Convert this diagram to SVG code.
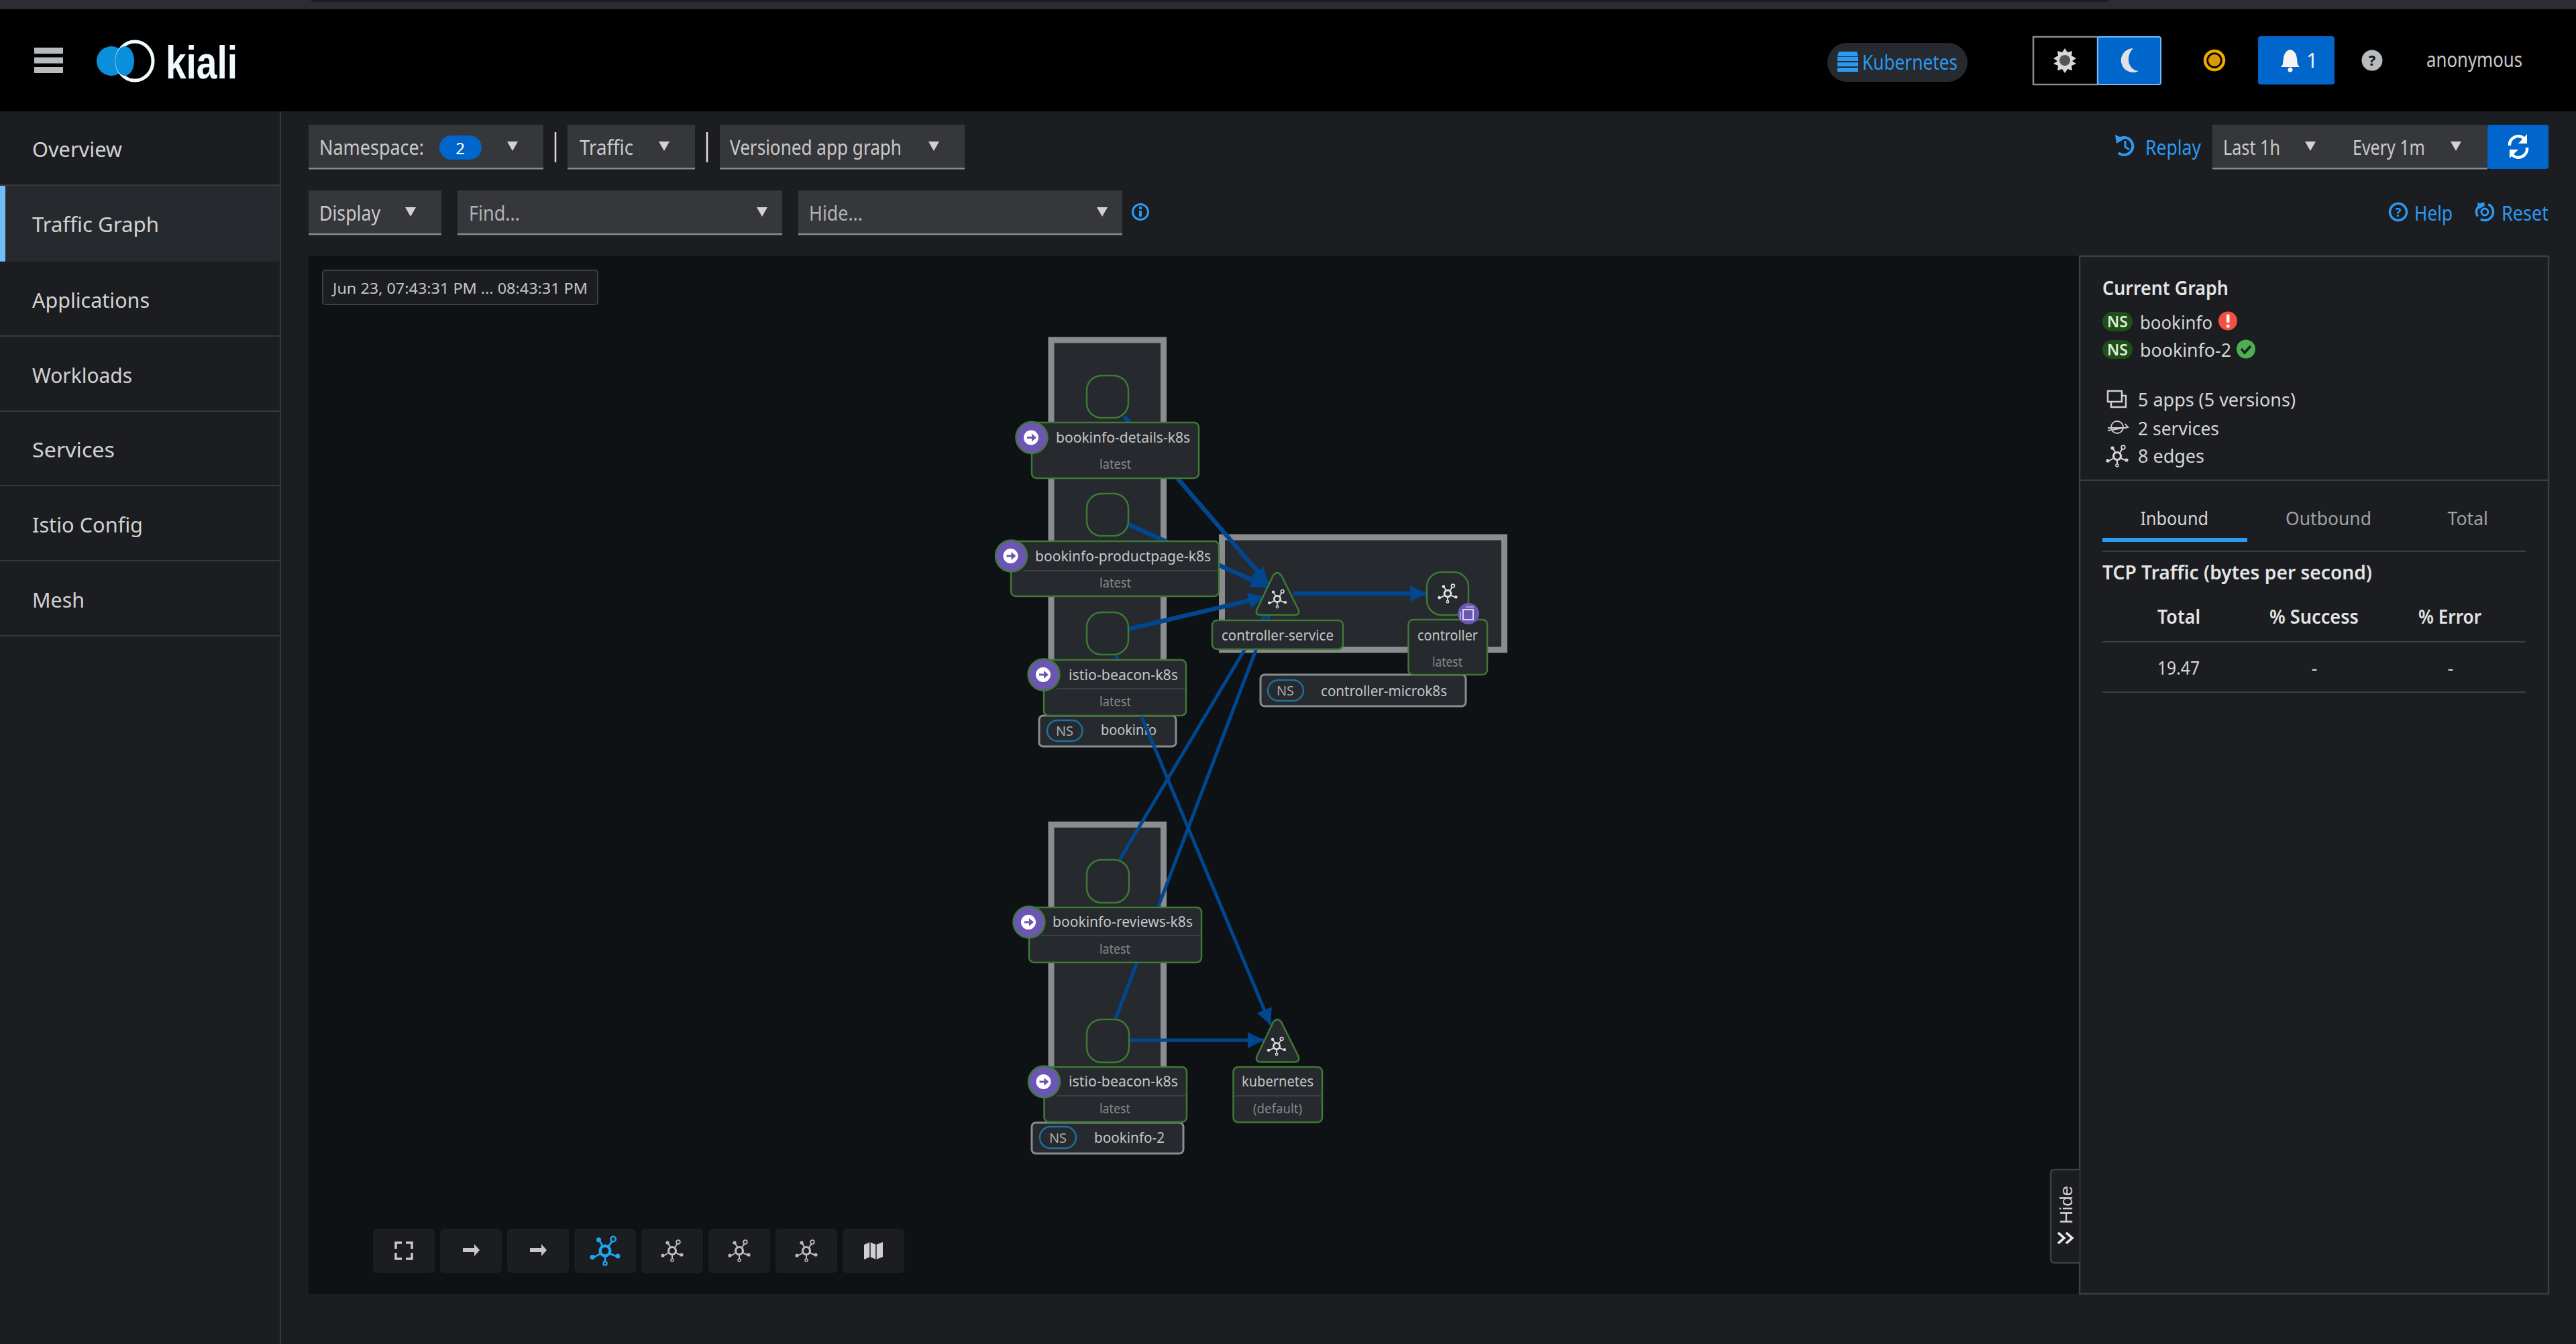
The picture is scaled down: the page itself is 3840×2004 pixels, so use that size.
<svg xmlns="http://www.w3.org/2000/svg" width="3840" height="2004" viewBox="0 0 3840 2004">
<style>
text{font-family:"Noto Sans","Open Sans","Liberation Sans",sans-serif;fill:#d2d2d2;dominant-baseline:central}
.side{font-size:31px}
.tb{font-size:30px;fill:#c8c9cb}
.ph{font-size:30px;fill:#b0b2b5}
.blue{font-size:30px;fill:#2b9af3}
.lbl{font-size:21px;fill:#c4c6c8}
.sub{font-size:19px;fill:#85888b}
.mid{text-anchor:middle}
.pt{font-size:28px;fill:#d6d6d6}
.pb{font-size:28px;font-weight:600;fill:#e4e4e4}
.nspill{font-size:23px;font-weight:600;fill:#dcebd8;text-anchor:middle}
.nsg{font-size:20px;fill:#a9abae;text-anchor:middle}
.dd{fill:#36373a}
.ul{fill:#8a8d90}
.caret{fill:#d2d2d2}
.sep{stroke:#e0e0e0;stroke-width:2.5}
.sdiv{stroke:#36383c;stroke-width:2}
.pdiv{stroke:#3c3f42;stroke-width:2}
.grp{fill:#26292d;stroke:#8a8d90;stroke-width:9}
.node{fill:#26292d;stroke:#3f7a35;stroke-width:2.5}
.lb{fill:#26292d;stroke:#3f7a35;stroke-width:2.5}
.div{stroke:#3c3f42;stroke-width:2}
.nsb{fill:#26292d;stroke:#8a8d90;stroke-width:3}
.pill{fill:none;stroke:#1f6f9f;stroke-width:2.5}
.bc{fill:#6b56b3;stroke:#3f7a35;stroke-width:2.5}
.tool{fill:#1b1d21}
.edge{fill:none;stroke:#00478f;stroke-width:5}
.thick{stroke-width:6.5}
.arr{marker-end:url(#ah)}
</style>
<defs>
<marker id="ah" markerUnits="userSpaceOnUse" markerWidth="26" markerHeight="26" refX="24" refY="12" orient="auto"><path d="M0 0L24 12L0 24Z" fill="#00478f"/></marker>
<g id="caret"><path class="caret" d="M-8 -7H8L0 7Z"/></g>
<g id="topo"><g fill="currentColor" stroke="currentColor">
<path d="M-2 -4L-6 -11M4 -5L8 -11M5 3L12 6M0 6L0 12M-5 3L-12 7" stroke-width="2" fill="none"/>
<circle r="5.5" fill="none" stroke-width="3.2"/>
<circle cx="-7" cy="-12" r="2.6" stroke="none"/>
<circle cx="9" cy="-13" r="2.8" fill="none" stroke-width="1.8"/>
<circle cx="14" cy="6" r="2.6" stroke="none"/>
<circle cx="0" cy="14" r="2" fill="none" stroke-width="1.6"/>
<circle cx="-14" cy="7" r="2.6" stroke="none"/>
</g></g>
<g id="badge"><circle r="23.5" class="bc"/><circle r="11" cx="-1" fill="#fff"/><path d="M-7 -1.5H0V-6L7 0L0 6V1.5H-7Z" fill="#6b56b3"/></g>
</defs>

<rect width="3840" height="2004" fill="#1b1d21"/>
<rect width="3840" height="13" fill="#2c2c35"/>
<rect x="464" width="2678" height="3" fill="#1d1d22"/>
<rect y="14" width="3840" height="152" fill="#000"/>

<g id="header">
<g fill="#b8bbbe"><rect x="51" y="71" width="43" height="9"/><rect x="51" y="85.5" width="43" height="9"/><rect x="51" y="100" width="43" height="9"/></g>
<circle cx="166" cy="91" r="22" fill="#0a8fdb"/>
<ellipse cx="201" cy="91" rx="27" ry="29" fill="#000" stroke="#f0fbff" stroke-width="5"/>
<ellipse cx="186" cy="91" rx="14" ry="22" fill="#0a8fdb"/>
<text x="247" y="93" font-size="68" font-weight="700" style="fill:#f0fbff;font-family:'Liberation Sans',sans-serif" textLength="107" lengthAdjust="spacingAndGlyphs">kiali</text>
<rect x="2724" y="64" width="209" height="58" rx="29" fill="#26292d"/>
<g fill="#2b9af3"><path d="M2741 77H2768L2770 84H2739Z"/><rect x="2739" y="85" width="31" height="6"/><rect x="2739" y="93" width="31" height="6"/><rect x="2739" y="101" width="31" height="6"/></g>
<text class="blue" x="2776" y="92" textLength="142" lengthAdjust="spacingAndGlyphs">Kubernetes</text>
<rect x="3031" y="55" width="96" height="71" fill="#000" stroke="#8a8d90" stroke-width="2.5"/>
<rect x="3127" y="55" width="94" height="71" rx="3" fill="#06c" stroke="#73bcf7" stroke-width="2"/>
<path fill="#d8d8d8" d="M3078 72L3082 78L3089 76L3088 83L3095 87L3089 91L3095 95L3088 98L3089 105L3082 103L3078 109L3074 103L3067 105L3068 98L3061 95L3067 91L3061 87L3068 83L3067 76L3074 78Z"/>
<circle cx="3078" cy="90" r="8" fill="#555"/>
<path d="M3180 72A18 18 0 1 0 3188 106C3172 104 3168 84 3180 72Z" fill="#e0e0e0"/>
<circle cx="3301" cy="90" r="14" fill="none" stroke="#f0ab00" stroke-width="4.5"/>
<circle cx="3301" cy="90" r="9" fill="#d99a00"/>
<rect x="3366" y="54" width="114" height="72" rx="4" fill="#06c"/>
<path d="M3414 74C3404 76 3404 86 3403 96L3400 100H3428L3425 96C3424 86 3424 76 3414 74Z" fill="#f4f4f4"/>
<circle cx="3414" cy="104" r="3.5" fill="#f4f4f4"/>
<text x="3438" y="89" font-size="30" style="fill:#f0f0f0">1</text>
<circle cx="3536" cy="90" r="15.5" fill="#b8bbbe"/>
<text x="3536" y="89" class="mid" font-size="22" font-weight="700" style="fill:#111">?</text>
<text class="tb" x="3617" y="88" textLength="143" lengthAdjust="spacingAndGlyphs">anonymous</text>
</g>

<g id="sidebar">
<rect x="0" y="166" width="419" height="1838" fill="#1b1d21"/>
<rect x="0" y="276" width="419" height="114" fill="#26292d"/>
<rect x="0" y="276" width="8" height="114" fill="#73bcf7"/>
<line class="sdiv" x1="418" y1="166" x2="418" y2="2004"/>
<line class="sdiv" x1="0" y1="276" x2="418" y2="276"/>
<line class="sdiv" x1="0" y1="501" x2="418" y2="501"/>
<line class="sdiv" x1="0" y1="613" x2="418" y2="613"/>
<line class="sdiv" x1="0" y1="724" x2="418" y2="724"/>
<line class="sdiv" x1="0" y1="836" x2="418" y2="836"/>
<line class="sdiv" x1="0" y1="948" x2="418" y2="948"/>
<text class="side" x="48" y="222" textLength="134" lengthAdjust="spacingAndGlyphs">Overview</text>
<text class="side" x="48" y="334" textLength="189" lengthAdjust="spacingAndGlyphs">Traffic Graph</text>
<text class="side" x="48" y="447" textLength="175" lengthAdjust="spacingAndGlyphs">Applications</text>
<text class="side" x="48" y="559" textLength="149" lengthAdjust="spacingAndGlyphs">Workloads</text>
<text class="side" x="48" y="670" textLength="123" lengthAdjust="spacingAndGlyphs">Services</text>
<text class="side" x="48" y="782" textLength="165" lengthAdjust="spacingAndGlyphs">Istio Config</text>
<text class="side" x="48" y="894" textLength="78" lengthAdjust="spacingAndGlyphs">Mesh</text>
</g>

<g id="toolbar">
<rect class="dd" x="460" y="186" width="350" height="66"/><rect class="ul" x="460" y="250" width="350" height="2.5"/>
<rect class="dd" x="846" y="186" width="190" height="66"/><rect class="ul" x="846" y="250" width="190" height="2.5"/>
<rect class="dd" x="1073" y="186" width="365" height="66"/><rect class="ul" x="1073" y="250" width="365" height="2.5"/>
<line class="sep" x1="828" y1="197" x2="828" y2="242"/>
<line class="sep" x1="1054" y1="197" x2="1054" y2="242"/>
<text class="tb" x="476" y="219" textLength="156" lengthAdjust="spacingAndGlyphs">Namespace:</text>
<rect x="655" y="202" width="63" height="36" rx="18" fill="#06c"/>
<text class="mid" x="686" y="220" font-size="24" style="fill:#fff">2</text>
<use href="#caret" x="764" y="218"/>
<text class="tb" x="864" y="219" textLength="80" lengthAdjust="spacingAndGlyphs">Traffic</text>
<use href="#caret" x="990" y="218"/>
<text class="tb" x="1088" y="219" textLength="256" lengthAdjust="spacingAndGlyphs">Versioned app graph</text>
<use href="#caret" x="1392" y="218"/>
<rect class="dd" x="460" y="284" width="198" height="66"/><rect class="ul" x="460" y="348" width="198" height="2.5"/>
<rect class="dd" x="682" y="284" width="484" height="66"/><rect class="ul" x="682" y="348" width="484" height="2.5"/>
<rect class="dd" x="1190" y="284" width="483" height="66"/><rect class="ul" x="1190" y="348" width="483" height="2.5"/>
<text class="tb" x="476" y="317" textLength="91" lengthAdjust="spacingAndGlyphs">Display</text>
<use href="#caret" x="612" y="316"/>
<text class="ph" x="699" y="317" textLength="76" lengthAdjust="spacingAndGlyphs">Find...</text>
<use href="#caret" x="1136" y="316"/>
<text class="ph" x="1206" y="317" textLength="80" lengthAdjust="spacingAndGlyphs">Hide...</text>
<use href="#caret" x="1643" y="316"/>
<circle cx="1700" cy="316" r="11.5" fill="none" stroke="#2b9af3" stroke-width="3"/>
<rect x="1698" y="314" width="4" height="9" fill="#2b9af3"/><rect x="1698" y="308" width="4" height="4" fill="#2b9af3"/>

<path d="M3158 208A13 13 0 1 1 3158 228" fill="none" stroke="#2b9af3" stroke-width="4"/>
<path d="M3153 201L3167 207L3155 214Z" fill="#2b9af3"/>
<path d="M3168 210V219L3174 223" fill="none" stroke="#2b9af3" stroke-width="3"/>
<text class="blue" x="3198" y="219" textLength="83" lengthAdjust="spacingAndGlyphs">Replay</text>
<rect class="dd" x="3298" y="186" width="410" height="66"/><rect class="ul" x="3298" y="250" width="410" height="2.5"/>
<text class="tb" x="3314" y="219" textLength="85" lengthAdjust="spacingAndGlyphs">Last 1h</text>
<use href="#caret" x="3444" y="218"/>
<text class="tb" x="3507" y="219" textLength="108" lengthAdjust="spacingAndGlyphs">Every 1m</text>
<use href="#caret" x="3661" y="218"/>
<rect x="3708" y="186" width="91" height="66" rx="4" fill="#06c"/>
<g fill="none" stroke="#fff" stroke-width="4.5"><path d="M3741 217A13 13 0 0 1 3762 206"/><path d="M3767 220A13 13 0 0 1 3745 231"/></g>
<path d="M3767 200V214H3754Z" fill="#fff"/><path d="M3741 236V223H3754Z" fill="#fff"/>
<circle cx="3575" cy="316" r="12.5" fill="none" stroke="#2b9af3" stroke-width="3.5"/>
<text class="mid" x="3575" y="316" font-size="18" font-weight="700" style="fill:#2b9af3">?</text>
<text class="blue" x="3599" y="317" textLength="57" lengthAdjust="spacingAndGlyphs">Help</text>
<circle cx="3704" cy="316" r="12.5" fill="none" stroke="#2b9af3" stroke-width="3.5" stroke-dasharray="26 6"/>
<circle cx="3704" cy="316" r="5" fill="none" stroke="#2b9af3" stroke-width="3"/>
<path d="M3693 302L3705 306L3695 312Z" fill="#2b9af3"/>
<text class="blue" x="3729" y="317" textLength="70" lengthAdjust="spacingAndGlyphs">Reset</text>
</g>

<rect id="canvas" x="460" y="382" width="2640" height="1547" fill="#0e1215"/>

<g id="timestamp">
<rect x="481" y="403" width="410" height="51" rx="4" fill="#1b1d21" stroke="#3c3f42" stroke-width="2"/>
<text x="496" y="429" font-size="22" style="fill:#c4c6c8" textLength="380" lengthAdjust="spacingAndGlyphs">Jun 23, 07:43:31 PM ... 08:43:31 PM</text>
</g>

<g id="box-bookinfo"><rect class="grp" x="1567" y="507" width="167.5" height="556"/></g>
<g id="box-bookinfo-2"><rect class="grp" x="1567" y="1229.5" width="167.5" height="440"/></g>
<g id="box-controller-microk8s"><rect class="grp" x="1821.5" y="801" width="421" height="168"/></g>

<g id="ns-bookinfo"><rect class="nsb" x="1549" y="1067" width="204" height="46" rx="6"/><rect class="pill" x="1561" y="1074" width="52.5" height="31" rx="15.5"/><text class="nsg" x="1587" y="1089">NS</text><text class="lbl" x="1641" y="1088" textLength="83" lengthAdjust="spacingAndGlyphs">bookinfo</text></g>
<g id="ns-bookinfo-2"><rect class="nsb" x="1538" y="1674" width="226" height="46" rx="6"/><rect class="pill" x="1550" y="1680" width="54" height="32" rx="16"/><text class="nsg" x="1577" y="1696">NS</text><text class="lbl" x="1631" y="1696" textLength="105" lengthAdjust="spacingAndGlyphs">bookinfo-2</text></g>
<g id="ns-controller-microk8s"><rect class="nsb" x="1879" y="1006" width="306" height="47" rx="6"/><rect class="pill" x="1890" y="1014" width="53" height="31" rx="15.5"/><text class="nsg" x="1916" y="1029">NS</text><text class="lbl" x="1969" y="1030" textLength="188" lengthAdjust="spacingAndGlyphs">controller-microk8s</text></g>

<g id="connectors">
<path class="edge thick arr" d="M1676 621L1890 870"/>
<path class="edge thick arr" d="M1682 782L1889 875"/>
<path class="edge thick arr" d="M1682 938L1885 890"/>
<path class="edge thick arr" d="M1928 885L2126 885"/>
<path class="edge" d="M1669 1282L1886 917"/>
<path class="edge" d="M1663 1519L1892 917"/>
<path class="edge arr" d="M1663 976L1894 1528"/>
<path class="edge arr" d="M1683 1551L1884 1551"/>
</g>

<g id="node-details"><rect class="node" x="1620" y="560" width="62" height="63" rx="22"/></g>
<g id="node-productpage"><rect class="node" x="1620" y="736" width="62" height="63" rx="22"/></g>
<g id="node-beacon"><rect class="node" x="1620" y="913" width="62" height="63" rx="22"/></g>
<g id="node-reviews"><rect class="node" x="1620" y="1282" width="63" height="64" rx="22"/></g>
<g id="node-beacon-2"><rect class="node" x="1620" y="1520" width="63" height="64" rx="22"/></g>

<g id="node-controller-service">
<path class="node" d="M1898 858Q1904 850 1910 858L1935 908Q1939 917 1929 917H1880Q1870 917 1874 908Z"/>
<g transform="translate(1904 893) scale(.85)" style="color:#dcdcdc"><use href="#topo"/></g>
<rect class="lb" x="1807" y="925" width="195" height="43" rx="7"/>
<text class="lbl" x="1821" y="947" textLength="167" lengthAdjust="spacingAndGlyphs">controller-service</text>
</g>
<g id="node-kubernetes">
<path class="node" d="M1898 1524Q1904 1516 1910 1524L1935 1574Q1939 1583.5 1929 1583.5H1880Q1870 1583.5 1874 1574Z"/>
<g transform="translate(1903 1560) scale(.85)" style="color:#dcdcdc"><use href="#topo"/></g>
<rect class="lb" x="1838.5" y="1591" width="132.5" height="82.5" rx="7"/>
<line class="div" x1="1840" y1="1634" x2="1970" y2="1634"/>
<text class="lbl" x="1851" y="1612" textLength="107" lengthAdjust="spacingAndGlyphs">kubernetes</text>
<text class="sub" x="1868" y="1653" textLength="73" lengthAdjust="spacingAndGlyphs">(default)</text>
</g>
<g id="node-controller">
<rect class="node" x="2127" y="853" width="62" height="64" rx="22"/>
<g transform="translate(2158 885) scale(.88)" style="color:#e6e6e6"><use href="#topo"/></g>
<rect class="lb" x="2099.5" y="924" width="117.5" height="82" rx="7"/>
<text class="lbl" x="2113" y="947" textLength="90" lengthAdjust="spacingAndGlyphs">controller</text>
<text class="sub" x="2135" y="987" textLength="45" lengthAdjust="spacingAndGlyphs">latest</text>
<circle cx="2189" cy="915" r="16" fill="#6b56b3"/>
<rect x="2181" y="909" width="15" height="15" fill="none" stroke="#d8d2f0" stroke-width="2"/>
<path d="M2185 905H2197M2177 912V924" stroke="#a99be0" stroke-width="2" fill="none"/>
</g>

<g id="label-details">
<rect class="lb" x="1538" y="630" width="249" height="83" rx="7"/>
<use href="#badge" x="1538" y="652.5"/>
<text class="lbl" x="1574" y="652" textLength="200" lengthAdjust="spacingAndGlyphs">bookinfo-details-k8s</text>
<text class="sub" x="1639" y="692" textLength="47" lengthAdjust="spacingAndGlyphs">latest</text>
</g>
<g id="label-productpage">
<rect class="lb" x="1507" y="807" width="310" height="82" rx="7"/>
<line class="div" x1="1525" y1="851" x2="1816" y2="851"/>
<use href="#badge" x="1507.5" y="829"/>
<text class="lbl" x="1543" y="828.5" textLength="262" lengthAdjust="spacingAndGlyphs">bookinfo-productpage-k8s</text>
<text class="sub" x="1639" y="869" textLength="47" lengthAdjust="spacingAndGlyphs">latest</text>
</g>
<g id="label-beacon">
<rect class="lb" x="1556" y="984" width="212" height="83" rx="7"/>
<line class="div" x1="1575" y1="1027" x2="1767" y2="1027"/>
<use href="#badge" x="1556" y="1006"/>
<text class="lbl" x="1593" y="1006" textLength="163" lengthAdjust="spacingAndGlyphs">istio-beacon-k8s</text>
<text class="sub" x="1639" y="1046" textLength="47" lengthAdjust="spacingAndGlyphs">latest</text>
</g>
<g id="label-reviews">
<rect class="lb" x="1534" y="1353" width="257" height="82" rx="7"/>
<line class="div" x1="1552" y1="1395" x2="1790" y2="1395"/>
<use href="#badge" x="1534" y="1375"/>
<text class="lbl" x="1569" y="1374" textLength="209" lengthAdjust="spacingAndGlyphs">bookinfo-reviews-k8s</text>
<text class="sub" x="1639" y="1415" textLength="46" lengthAdjust="spacingAndGlyphs">latest</text>
</g>
<g id="label-beacon-2">
<rect class="lb" x="1556.5" y="1591" width="212.5" height="82" rx="7"/>
<line class="div" x1="1575" y1="1634" x2="1768" y2="1634"/>
<use href="#badge" x="1556.5" y="1613"/>
<text class="lbl" x="1593" y="1612" textLength="163" lengthAdjust="spacingAndGlyphs">istio-beacon-k8s</text>
<text class="sub" x="1639" y="1653" textLength="46" lengthAdjust="spacingAndGlyphs">latest</text>
</g>

<g id="graph-tools">
<rect class="tool" x="556" y="1832" width="92" height="66" rx="6"/>
<rect class="tool" x="656" y="1832" width="92" height="66" rx="6"/>
<rect class="tool" x="756" y="1832" width="92" height="66" rx="6"/>
<rect class="tool" x="856" y="1832" width="92" height="66" rx="6"/>
<rect class="tool" x="956" y="1832" width="92" height="66" rx="6"/>
<rect class="tool" x="1056" y="1832" width="92" height="66" rx="6"/>
<rect class="tool" x="1156" y="1832" width="92" height="66" rx="6"/>
<rect class="tool" x="1256" y="1832" width="92" height="66" rx="6"/>
<path d="M590 1862V1853H599M605 1853H614V1862M614 1868V1877H605M599 1877H590V1868" fill="none" stroke="#c8c8c8" stroke-width="3.5"/>
<path d="M690 1861H707V1855L715 1864L707 1873V1867H690Z" fill="#c8c8c8"/>
<path d="M790 1861H807V1855L815 1864L807 1873V1867H790Z" fill="#c8c8c8"/>
<g transform="translate(902 1865) scale(1.35)" style="color:#1ea7f2"><use href="#topo"/></g>
<g transform="translate(1002 1865)" style="color:#bdbdbd"><use href="#topo"/></g>
<g transform="translate(1102 1865)" style="color:#bdbdbd"><use href="#topo"/></g>
<g transform="translate(1202 1865)" style="color:#bdbdbd"><use href="#topo"/></g>
<path d="M1288 1856L1297 1852L1306 1856L1316 1852V1874L1306 1878L1297 1874L1288 1878Z" fill="#cfcfcf"/>
<path d="M1297 1852V1874M1306 1856V1878" stroke="#1b1d21" stroke-width="1.5"/>
</g>

<g id="side-panel">
<rect x="3100" y="382" width="699" height="1547" fill="#1b1d21" stroke="#3c3f42" stroke-width="2.5"/>
<text class="pb" x="3134" y="429" textLength="188" lengthAdjust="spacingAndGlyphs">Current Graph</text>
<rect x="3134" y="465" width="45" height="29" rx="14.5" fill="#1e4f18"/>
<text class="nspill" x="3156.5" y="479">NS</text>
<text class="pt" x="3190" y="480" textLength="108" lengthAdjust="spacingAndGlyphs">bookinfo</text>
<circle cx="3321" cy="478.5" r="14" fill="#f54f42"/>
<rect x="3319" y="469" width="4.5" height="12" fill="#fff"/><rect x="3319" y="484" width="4.5" height="4.5" fill="#fff"/>
<rect x="3134" y="507" width="45" height="28" rx="14" fill="#1e4f18"/>
<text class="nspill" x="3156.5" y="521">NS</text>
<text class="pt" x="3190" y="521" textLength="136" lengthAdjust="spacingAndGlyphs">bookinfo-2</text>
<circle cx="3348" cy="520.5" r="14" fill="#4caf50"/>
<path d="M3341 520L3346 526L3355 516" fill="none" stroke="#1b1d21" stroke-width="3.5"/>
<rect x="3142" y="583" width="21" height="16" fill="none" stroke="#d0d0d0" stroke-width="2.5"/>
<path d="M3147 599V607H3169V590H3163" fill="none" stroke="#d0d0d0" stroke-width="2.5"/>
<text class="pt" x="3187" y="595" textLength="235" lengthAdjust="spacingAndGlyphs">5 apps (5 versions)</text>
<circle cx="3156" cy="637" r="9" fill="none" stroke="#c8c8c8" stroke-width="2"/>
<path d="M3142 638H3170M3168 632L3172 637L3142 642" fill="none" stroke="#c8c8c8" stroke-width="2"/>
<text class="pt" x="3187" y="637.5" textLength="121" lengthAdjust="spacingAndGlyphs">2 services</text>
<g transform="translate(3156 680)" style="color:#d8d8d8"><use href="#topo"/></g>
<text class="pt" x="3187" y="679" textLength="99" lengthAdjust="spacingAndGlyphs">8 edges</text>
<line class="pdiv" x1="3100" y1="716" x2="3799" y2="716"/>
<text class="pt" x="3190.5" y="771.5" textLength="101.5" lengthAdjust="spacingAndGlyphs">Inbound</text>
<text class="pt" x="3407" y="771.5" style="fill:#a0a3a6" textLength="128" lengthAdjust="spacingAndGlyphs">Outbound</text>
<text class="pt" x="3648.5" y="771.5" style="fill:#a0a3a6" textLength="60.5" lengthAdjust="spacingAndGlyphs">Total</text>
<rect x="3134" y="802" width="216" height="6" fill="#2b9af3"/>
<line class="pdiv" x1="3134" y1="822" x2="3765" y2="822"/>
<text class="pb" x="3134" y="853" textLength="402" lengthAdjust="spacingAndGlyphs">TCP Traffic (bytes per second)</text>
<text class="pb" x="3216" y="919" textLength="64" lengthAdjust="spacingAndGlyphs">Total</text>
<text class="pb" x="3383" y="919" textLength="133" lengthAdjust="spacingAndGlyphs">% Success</text>
<text class="pb" x="3605" y="919" textLength="94" lengthAdjust="spacingAndGlyphs">% Error</text>
<line class="pdiv" x1="3134" y1="957" x2="3765" y2="957"/>
<text class="pt" x="3216" y="995" textLength="63" lengthAdjust="spacingAndGlyphs">19.47</text>
<text class="pt mid" x="3450" y="995">-</text>
<text class="pt mid" x="3653" y="995">-</text>
<line class="pdiv" x1="3134" y1="1032" x2="3765" y2="1032"/>
</g>

<g id="hide-tab">
<path d="M3100 1744H3063Q3057 1744 3057 1750V1877Q3057 1883 3063 1883H3100" fill="#1b1d21" stroke="#3c3f42" stroke-width="2.5"/>
<text transform="translate(3080 1825) rotate(-90)" x="0" y="0" font-size="26" style="font-family:'Liberation Sans',sans-serif;fill:#d2d2d2" textLength="57" lengthAdjust="spacingAndGlyphs">Hide</text>
<path d="M3068 1838L3077 1846L3068 1854M3080 1838L3089 1846L3080 1854" fill="none" stroke="#eee" stroke-width="3.5"/>
</g>
</svg>
